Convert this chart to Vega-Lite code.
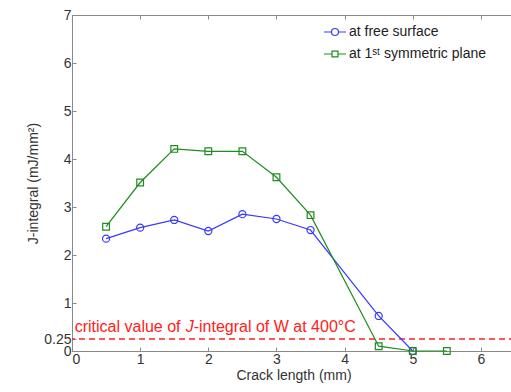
{
  "$schema": "https://vega.github.io/schema/vega-lite/v6.json",
  "width": 443,
  "height": 336,
  "autosize": "none",
  "padding": {"left": 72, "top": 15, "right": 0, "bottom": 41},
  "background": "white",
  "config": {
    "font": "Liberation Sans",
    "view": {"stroke": "#8a8a8a", "strokeWidth": 1},
    "axis": {
      "grid": false,
      "domainColor": "#8a8a8a",
      "tickColor": "#8a8a8a",
      "tickSize": -4,
      "labelFontSize": 14,
      "labelColor": "#333333",
      "titleFontSize": 14,
      "titleFontWeight": "normal",
      "titleColor": "#333333",
      "labelFont": "Liberation Sans",
      "titleFont": "Liberation Sans"
    }
  },
  "datasets": {
    "pts": [
      {"series": "at free surface", "x": 0.5, "y": 2.34},
      {"series": "at free surface", "x": 1.0, "y": 2.57},
      {"series": "at free surface", "x": 1.5, "y": 2.73},
      {"series": "at free surface", "x": 2.0, "y": 2.5},
      {"series": "at free surface", "x": 2.5, "y": 2.85},
      {"series": "at free surface", "x": 3.0, "y": 2.75},
      {"series": "at free surface", "x": 3.5, "y": 2.52},
      {"series": "at free surface", "x": 4.5, "y": 0.73},
      {"series": "at free surface", "x": 5.0, "y": 0.0},
      {"series": "at 1ˢᵗ symmetric plane", "x": 0.5, "y": 2.59},
      {"series": "at 1ˢᵗ symmetric plane", "x": 1.0, "y": 3.51},
      {"series": "at 1ˢᵗ symmetric plane", "x": 1.5, "y": 4.21},
      {"series": "at 1ˢᵗ symmetric plane", "x": 2.0, "y": 4.16},
      {"series": "at 1ˢᵗ symmetric plane", "x": 2.5, "y": 4.16},
      {"series": "at 1ˢᵗ symmetric plane", "x": 3.0, "y": 3.62},
      {"series": "at 1ˢᵗ symmetric plane", "x": 3.5, "y": 2.83},
      {"series": "at 1ˢᵗ symmetric plane", "x": 4.5, "y": 0.1},
      {"series": "at 1ˢᵗ symmetric plane", "x": 5.0, "y": 0.0},
      {"series": "at 1ˢᵗ symmetric plane", "x": 5.5, "y": 0.0}
    ],
    "crit": [{"y": 0.25}],
    "ann": [{"x": 0.04, "y": 0.4}]
  },
  "layer": [
    {
      "data": {"name": "crit"},
      "mark": {"type": "rule", "color": "#ff2020", "strokeDash": [6, 4], "strokeWidth": 1.3},
      "encoding": {
        "y": {
          "field": "y", "type": "quantitative",
          "scale": {"domain": [0, 7], "nice": false, "zero": false},
          "axis": {"values": [0, 0.25, 1, 2, 3, 4, 5, 6, 7], "format": ".2~f", "labelOverlap": false, "title": "J-integral (mJ/mm²)", "titlePadding": 3, "labelPadding": 5}
        }
      }
    },
    {
      "data": {"name": "pts"},
      "mark": {"type": "line", "strokeWidth": 1.2},
      "encoding": {
        "x": {
          "field": "x", "type": "quantitative",
          "scale": {"domain": [0, 6.5], "nice": false, "zero": false},
          "axis": {"values": [0, 1, 2, 3, 4, 5, 6], "title": "Crack length (mm)", "labelPadding": 5, "titlePadding": 2, "orient": "bottom"}
        },
        "y": {
          "field": "y", "type": "quantitative",
          "scale": {"domain": [0, 7], "nice": false, "zero": false},
          "axis": {"values": [0, 0.25, 1, 2, 3, 4, 5, 6, 7], "format": ".2~f", "labelOverlap": false, "title": "J-integral (mJ/mm²)", "titlePadding": 3, "labelPadding": 5}
        },
        "color": {
          "field": "series", "type": "nominal",
          "scale": {"domain": ["at free surface", "at 1ˢᵗ symmetric plane"], "range": ["#3838ff", "#1e8c1e"]},
          "legend": {
            "title": null,
            "orient": "none",
            "legendX": 251,
            "legendY": 5,
            "labelFontSize": 14,
            "labelColor": "#222222",
            "labelOffset": 2,
            "symbolSize": 484,
            "rowPadding": 3,
            "symbolStrokeWidth": 1.2,
            "encode": {
              "symbols": {
                "update": {
                  "shape": {"signal": "datum.value === 'at free surface' ? 'M-1,0H-0.32M0.32,0A0.32,0.32 0 1,1 -0.32,0A0.32,0.32 0 1,1 0.32,0M0.32,0H1' : 'M-1,0H-0.27M-0.27,-0.27H0.27V0.27H-0.27ZM0.27,0H1'"},
                  "fill": {"value": "transparent"}
                }
              }
            }
          }
        }
      }
    },
    {
      "data": {"name": "pts"},
      "transform": [{"filter": "datum.series === 'at free surface'"}],
      "mark": {"type": "point", "shape": "circle", "filled": false, "size": 50, "strokeWidth": 1.2, "opacity": 1},
      "encoding": {
        "x": {"field": "x", "type": "quantitative", "axis": null},
        "y": {"field": "y", "type": "quantitative"},
        "color": {"field": "series", "type": "nominal", "legend": null}
      }
    },
    {
      "data": {"name": "pts"},
      "transform": [{"filter": "datum.series !== 'at free surface'"}],
      "mark": {"type": "point", "shape": "square", "filled": false, "size": 45, "strokeWidth": 1.2, "opacity": 1},
      "encoding": {
        "x": {"field": "x", "type": "quantitative", "axis": null},
        "y": {"field": "y", "type": "quantitative"},
        "color": {"field": "series", "type": "nominal", "legend": null}
      }
    },
    {
      "data": {"name": "ann"},
      "mark": {"type": "text", "text": "critical value of", "color": "#ff2020", "fontSize": 16, "align": "left", "baseline": "alphabetic"},
      "encoding": {
        "x": {"field": "x", "type": "quantitative", "axis": {"orient": "top", "labels": false, "title": null, "values": [0, 1, 2, 3, 4, 5, 6], "domain": false}},
        "y": {"field": "y", "type": "quantitative"}
      }
    },
    {
      "data": {"name": "ann"},
      "mark": {"type": "text", "text": "J", "color": "#ff2020", "fontSize": 16, "fontStyle": "italic", "align": "left", "baseline": "alphabetic", "dx": 111},
      "encoding": {
        "x": {"field": "x", "type": "quantitative", "axis": null},
        "y": {"field": "y", "type": "quantitative"}
      }
    },
    {
      "data": {"name": "ann"},
      "mark": {"type": "text", "text": "-integral of W at 400°C", "color": "#ff2020", "fontSize": 16, "align": "left", "baseline": "alphabetic", "dx": 119},
      "encoding": {
        "x": {"field": "x", "type": "quantitative", "axis": null},
        "y": {"field": "y", "type": "quantitative"}
      }
    }
  ],
  "resolve": {"axis": {"x": "independent"}}
}
